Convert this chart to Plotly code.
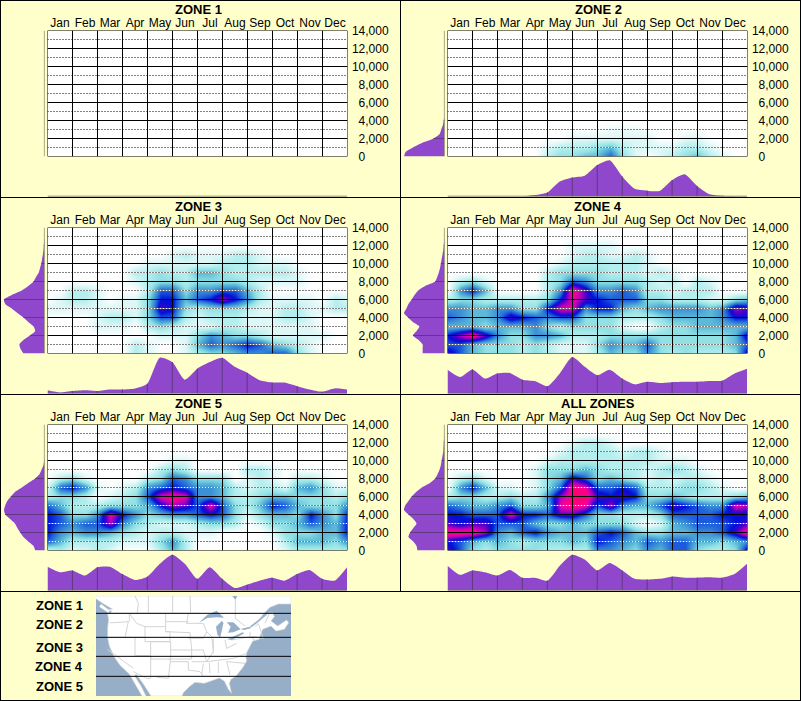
import numpy as np
import plotly.graph_objects as go

W, H = 801, 701
BG = "#FFFFCC"
PURPLE = "#8F47CC"
MONTHS = ["Jan","Feb","Mar","Apr","May","Jun","Jul","Aug","Sep","Oct","Nov","Dec"]
ELEV = [0,2000,4000,6000,8000,10000,12000,14000]
ELEV_TEXT = ["\u00a0\u00a00","\u00a0\u00a02,000","\u00a0\u00a04,000","\u00a0\u00a06,000","\u00a0\u00a08,000","10,000","12,000","14,000"]
MONTH_POS = [i/2 for i in range(25)]      # half-month columns
ELEV_ROWS = [i*1000 for i in range(15)]   # heat rows
ELEV_PROFILE = [i*500 for i in range(29)] # left profile rows

EMPTY_ROW = [0]*25

Z_ZONE1 = [EMPTY_ROW]*15
Z_ZONE2 = [
 [0,0,0,0,0,0,0,0,2,3,3,4,4,6,3,1,0,1,2,3,4,2,1,0,0],
 [0,0,0,0,0,0,0,0,1,2,2,2,3,4,2,1,1,1,1,2,2,1,0,0,0],
 [0,0,0,0,0,0,0,0,0,0,1,1,1,1,1,1,1,0,0,1,1,0,0,0,0],
 [0,0,0,0,0,0,0,0,0,0,0,0,0,.5,.5,.5,0,0,0,0,0,0,0,0,0],
] + [EMPTY_ROW]*11
Z_ZONE3 = [
 [0,0,0,0,0,0,0,2,1,0,0,1,2,3,3,4,5,5,6,6,3,1,0,0,0],
 [0,0,0,0,0,0,0,2,1,0,0,1,4,6,5,6,7,6,4,3,2,1,0,0,0],
 [0,0,0,0,0,0,0,0,0,1,1,1,3,5,4,3,3,2,1,1,1,1,1,0,0],
 [0,0,0,0,1,1,1,0,2,3,2,1,1,1,2,2,1,1,1,1,1,1,0,0,0],
 [0,0,0,0,1,2,2,1,3,6,6,2,1,2,2,2,1,1,1,2,2,1,0,0,0],
 [1,1,1,1,1,1,1,1,3,8,7,3,2,3,3,3,2,1,1,2,2,1,1,2,2],
 [0,1,2,2,1,0,1,1,3,7,7,4,6,7,9,7,5,2,1,1,1,1,0,2,1],
 [0,0,2,2,1,0,0,0,2,6,6,3,5,5,6,6,4,2,0,0,0,0,0,0,0],
 [0,0,0,0,0,0,0,1,2,3,3,2,3,3,3,3,2,1,1,1,1,0,0,0,0],
 [0,0,0,0,0,0,0,2,2,3,2,2,4,4,3,2,2,2,2,2,1,0,0,0,0],
 [0,0,0,0,0,0,0,0,1,1,1,1,1,1,2,2,2,1,1,1,0,0,0,0,0],
 [0,0,0,0,0,0,0,0,0,0,1,2,1,1,1,2,2,1,0,0,0,0,0,0,0],
] + [EMPTY_ROW]*3
Z_ZONE4 = [
 [8,6,4,3,3,3,2,3,2,1,1,1,2,4,3,3,5,3,2,3,2,2,2,3,8],
 [6,6,4,3,3,3,2,3,2,1,1,1,3,5,4,4,6,3,3,3,3,3,3,4,6],
 [7,9,11,8,5,3,3,5,5,4,2,2,2,3,3,3,3,3,3,3,3,3,3,4,8],
 [4,4,4,3,4,4,4,5,3,2,3,3,3,3,1,0,0,2,3,3,4,4,4,4,4],
 [6,5,4,4,5,8,7,6,5,6,6,3,3,3,2,2,2,3,4,4,4,4,5,7,7],
 [5,5,4,4,5,5,3,3,7,10,10,5,7,7,4,3,4,5,5,5,5,4,5,9,8],
 [2,3,3,2,2,2,2,2,3,7,10,8,7,6,6,6,3,3,2,2,2,1,1,3,4],
 [0,5,7,4,0,0,0,0,2,5,11,8,5,5,6,5,2,2,1,2,2,2,0,0,0],
 [0,2,3,1,0,0,0,0,2,3,6,5,3,3,3,3,2,1,2,0,2,1,0,0,0],
 [0,0,0,0,0,0,0,0,2,3,3,3,3,2,2,2,1,2,1,0,0,0,0,0,0],
 [0,0,0,0,0,0,0,0,0,1,2,2,2,2,2,2,1,0,0,0,0,0,0,0,0],
 [0,0,0,0,0,0,0,0,0,0,1,2,2,1,1,2,1,0,0,0,0,0,0,0,0],
 [0,0,0,0,0,0,0,0,0,0,1,1,1,1,0,0,0,0,0,0,0,0,0,0,0],
] + [EMPTY_ROW]*2
Z_ZONE5 = [
 [1,2,1,1,2,1,0,0,0,2,4,2,0,0,0,0,0,0,0,1,2,2,2,2,2],
 [6,4,2,2,2,2,1,1,1,3,5,2,0,0,0,0,0,0,0,2,4,4,4,3,5],
 [7,5,4,5,5,4,3,2,1,2,2,1,1,1,0,0,0,0,1,3,3,3,4,4,7],
 [7,6,5,6,6,9,5,3,2,1,1,1,2,3,3,2,0,1,3,3,4,6,5,4,7],
 [7,6,3,3,5,10,7,5,3,4,5,5,6,7,6,3,1,3,4,4,3,7,5,3,7],
 [6,4,2,2,2,3,3,3,4,7,9,8,6,10,6,3,2,4,7,6,4,3,3,3,5],
 [2,3,3,2,0,1,2,3,6,10,11,10,5,5,4,2,2,3,4,4,3,3,3,2,3],
 [1,6,7,5,1,0,1,2,5,6,7,6,5,5,4,2,1,2,2,1,4,5,3,1,1],
 [0,2,3,1,0,0,0,0,2,3,6,5,3,3,3,0,1,2,1,0,2,2,1,0,0],
 [0,0,0,0,0,0,0,0,0,2,3,2,0,0,0,0,2,2,1,0,0,0,0,0,0],
 [0,0,0,0,0,0,0,0,0,0,1,1,0,0,0,0,0,0,0,0,0,0,0,0,0],
] + [EMPTY_ROW]*4
Z_ALL = [
 [8,6,3,2,3,3,3,3,2,2,2,2,5,5,4,3,5,4,6,6,3,2,2,3,8],
 [7,6,4,3,4,3,2,3,3,3,4,3,7,6,5,4,6,5,6,6,4,4,3,4,5],
 [11,11,11,9,5,4,6,7,5,4,4,4,6,7,6,4,3,3,4,4,5,5,6,8,11],
 [8,7,8,8,6,6,6,4,3,3,4,3,3,3,3,1,0,1,4,5,6,6,6,7,8],
 [7,7,6,6,6,10,7,7,6,8,8,6,3,3,2,2,2,3,6,6,6,6,7,7,7],
 [6,5,4,4,5,6,3,3,4,10,11,10,6,9,5,4,4,6,8,7,6,5,5,10,9],
 [2,3,3,2,2,3,2,2,5,9,11,11,8,7,8,7,3,3,4,3,2,2,2,3,4],
 [0,5,7,4,1,1,0,1,3,6,11,10,6,6,7,6,2,2,2,3,3,2,1,0,0],
 [0,2,3,1,0,0,0,1,3,4,8,6,3,4,3,2,1,2,1,2,2,1,0,0,0],
 [0,0,0,0,0,0,0,1,3,3,3,4,3,2,2,2,1,2,3,2,1,0,0,0,0],
 [0,0,0,0,0,0,0,0,1,2,2,2,2,2,2,2,2,1,1,1,0,0,0,0,0],
 [0,0,0,0,0,0,0,0,0,1,2,2,2,2,1,2,2,1,0,0,0,0,0,0,0],
 [0,0,0,0,0,0,0,0,0,0,1,2,2,1,0,0,0,0,0,0,0,0,0,0,0],
] + [EMPTY_ROW]*2

BOTTOM_ZONE1 = [0]*25
BOTTOM_ZONE2 = [0,0,0,0,0,0,0,4,11,41,52,57,86,99,55,21,16,15,45,61,29,6,2,1,1]
BOTTOM_ZONE3 = [9,3,7,9,7,11,11,14,27,98,86,38,68,86,98,73,57,36,30,30,20,11,5,14,11]
BOTTOM_ZONE4 = [65,45,66,41,55,56,38,34,20,55,100,73,50,65,41,25,32,29,31,32,32,34,35,55,68]
BOTTOM_ZONE5 = [65,50,55,41,64,65,45,29,38,73,98,73,32,64,32,7,16,27,35,27,45,56,32,27,64]
BOTTOM_ALL   = [68,43,55,50,41,56,35,35,27,68,98,85,55,75,55,32,30,32,38,35,35,36,35,45,73]

LEFT_ZONE1 = [0]*29
LEFT_ZONE2 = [100,96,78,56,27,12,8,4,2,0,0,0,0,0,0,0,0,0,0,0,0,0,0,0,0,0,0,0,0]
LEFT_ZONE3 = [52,59,62,52,36,23,27,40,52,67,81,97,100,81,56,40,27,21,14,11,8,6,4,2.5,1.7,1,0,0,0]
LEFT_ZONE4 = [54,54,54,64,78,69,62,78,90,100,94,89,81,74,65,48,23,18,14,11,9,7,5,3,2,1,0,0,0]
LEFT_ZONE5 = [23,27,40,52,60,67,73,85,97,100,97,92,83,73,56,40,23,12,7,2.5,1,0,0,0,0,0,0,0,0]
LEFT_ALL   = [67,69,77,89,85,77,69,77,89,100,97,89,81,70,56,36,23,17,12,9,7,5,3,2.5,1.7,1,0,0,0]

PANELS = [
 ("ZONE 1", Z_ZONE1, BOTTOM_ZONE1, LEFT_ZONE1),
 ("ZONE 2", Z_ZONE2, BOTTOM_ZONE2, LEFT_ZONE2),
 ("ZONE 3", Z_ZONE3, BOTTOM_ZONE3, LEFT_ZONE3),
 ("ZONE 4", Z_ZONE4, BOTTOM_ZONE4, LEFT_ZONE4),
 ("ZONE 5", Z_ZONE5, BOTTOM_ZONE5, LEFT_ZONE5),
 ("ALL ZONES", Z_ALL, BOTTOM_ALL, LEFT_ALL),
]

COLORS = ["#FFFFFF","#DDF7F7","#B4EEEE","#90E0E4","#5CBAD8","#3C90D6","#1C5CDC","#0010D8",
          "#4A00C8","#AA00C0","#F000A0","#FF0070","#FF0040"]
COLORSCALE = [[i/12, c] for i, c in enumerate(COLORS)]

# Map outline, in map units
LAND_X = [288,873,873,870,835,810,790,778,798,818,823,813,833,860,866,853,828,813,788,780,778,758,750,740,738,740,728,708,693,688,693,695,685,673,658,648,633,613,585,568,550,546,453,430,408,404,423,438,426,406,388,360,343,328,323,323,326,323,336,326,338,308,288]
LAND_Y = [18,18,42,42,42,52,72,88,73,68,80,93,108,90,98,118,123,108,118,138,148,153,168,188,203,213,233,258,268,280,303,310,298,273,264,268,272,280,277,290,308,318,318,282,252,258,288,318,318,283,252,226,201,168,143,113,88,73,66,58,58,40,26]
ISLAND_X = [303,330,325,298]
ISLAND_Y = [42,62,68,50]
LAKES = [
 ([597,622,650,672,650,622],[98,74,62,83,82,84]),
 ([652,648,666,670,664,660],[133,110,92,100,128,143]),
 ([680,700,722,700,684,692],[97,97,118,127,128,110]),
 ([682,728,733,696],[148,127,130,150]),
 ([722,750,754,732],[117,110,114,120]),
 ([750,798,801,755],[109,72,74,112]),
 ([697,712,706],[18,18,30]),
]
BORDERS = [
 ([336,600],[70,70]),([405,415,412],[18,40,68]),([445,445],[18,68]),([518,518],[18,68]),([570,572],[18,68]),
 ([706,706,735],[30,85,108]),([388,388],[70,95]),([330,345,385],[98,98,95]),([385,375],[95,142]),
 ([322,435],[142,142]),([388,410,435,497],[70,100,110,110]),([497,497],[70,125]),([497,565],[95,95]),
 ([497,570],[125,128]),([435,435,510,510,497],[110,155,155,125,125]),([452,512,512,452,452],[155,155,207,207,155]),
 ([405,405,452],[142,197,197]),([322,400],[178,235]),([400,440,452],[245,265,265]),([452,452],[197,265]),
 ([512,505,470],[207,265,262]),([512,565,565,600,610],[215,215,240,245,258]),([505,575],[207,207]),
 ([512,575],[180,180]),([570,575,575],[128,180,207]),([575,610,620,575],[180,180,215,215]),
 ([560,610,620,610,565],[100,100,125,145,145]),([565,560],[70,100]),([620,635,640,620],[125,140,185,215]),
 ([640,640],[145,190]),([675,680,710],[150,175,160]),([620,700,740],[215,205,190]),
 ([605,610],[255,220]),([628,630],[218,250]),([655,655],[215,250]),([680,690],[215,255]),([680,735],[215,220]),
 ([695,750,765],[150,140,150]),([750,750,765],[125,140,140]),([765,775,790,765],[110,100,145,140]),([795,810],[100,65]),
]
ZONE_BREAKS = [70,142,199,259]
ZONE_LABELS = ["ZONE 1","ZONE 2","ZONE 3","ZONE 4","ZONE 5"]
ZONE_LABEL_PY = [605,624.7,647.3,666.7,686]

def dx(px): return px/W
def dy(py): return 1-py/H

fig = go.Figure()
layout = dict(width=W, height=H, margin=dict(l=0,r=0,t=0,b=0,pad=0,autoexpand=False), autosize=False,
              paper_bgcolor=BG, plot_bgcolor=BG, showlegend=False,
              font=dict(family="Liberation Sans, Arial, sans-serif", size=12, color="#000000"))
shapes, annos = [], []
ax = 0
def new_axes(xdom, ydom, xopts, yopts):
    global ax
    ax += 1
    s = "" if ax == 1 else str(ax)
    base = dict(showgrid=False, zeroline=False, showline=False, ticks="", showticklabels=False, fixedrange=True)
    layout["xaxis"+s] = {**base, "domain":xdom, "anchor":"y"+s, **xopts}
    layout["yaxis"+s] = {**base, "domain":ydom, "anchor":"x"+s, **yopts}
    return "x"+s, "y"+s

for idx, (title, z, bottom, left) in enumerate(PANELS):
    ox = 400 * (idx % 2)
    oy = 197 * (idx // 2)
    # marginal left
    xa, ya = new_axes([dx(ox+4), dx(ox+44.5)], [dy(oy+156.5), dy(oy+30.5)],
                      dict(range=[100,0]), dict(range=[0,14000]))
    fig.add_trace(go.Scatter(x=left, y=ELEV_PROFILE, xaxis=xa, yaxis=ya, mode="lines", fill="tozerox",
                             fillcolor=PURPLE, line=dict(color=PURPLE,width=0,shape="spline",smoothing=0.6), hoverinfo="skip"))
    for e in ELEV[1:-1]:
        v = float(np.interp(e, ELEV_PROFILE, left))
        if v > 0:
            fig.add_trace(go.Scatter(x=[0,v], y=[e,e], xaxis=xa, yaxis=ya, mode="lines",
                                     line=dict(color="#5F3A80",width=1), hoverinfo="skip"))
    fig.add_trace(go.Scatter(x=[0,0], y=[0,14000], xaxis=xa, yaxis=ya, mode="lines", cliponaxis=False,
                             line=dict(color="#6E6E5C",width=1.2), hoverinfo="skip"))
    # marginal bottom
    xa, ya = new_axes([dx(ox+47.5), dx(ox+347)], [dy(oy+196.5), dy(oy+160)],
                      dict(range=[0,12]), dict(range=[0,100]))
    fig.add_trace(go.Scatter(x=MONTH_POS, y=bottom, xaxis=xa, yaxis=ya, mode="lines", fill="tozeroy",
                             fillcolor=PURPLE, line=dict(color=PURPLE,width=0,shape="spline",smoothing=0.6), hoverinfo="skip"))
    for m in range(1,12):
        v = float(np.interp(m, MONTH_POS, bottom))
        if v > 0:
            fig.add_trace(go.Scatter(x=[m,m], y=[0,v], xaxis=xa, yaxis=ya, mode="lines",
                                     line=dict(color="#5F3A80",width=1), hoverinfo="skip"))
    fig.add_trace(go.Scatter(x=[0,12], y=[0,0], xaxis=xa, yaxis=ya, mode="lines", cliponaxis=False,
                             line=dict(color="#6E6E5C",width=1.5), hoverinfo="skip"))
    # heat
    xa, ya = new_axes([dx(ox+47.5), dx(ox+347.5)], [dy(oy+156.5), dy(oy+30.5)],
                      dict(range=[0,12], side="top", tickmode="array", tickvals=[i+.5 for i in range(12)],
                           ticktext=MONTHS, showticklabels=True, tickfont=dict(size=12,color="#000000"), ticklen=0),
                      dict(range=[0,14000], side="right", tickmode="array", tickvals=ELEV, ticktext=ELEV_TEXT,
                           showticklabels=True, tickfont=dict(size=12,color="#000000"),
                           ticks="outside", ticklen=1, tickcolor="rgba(0,0,0,0)"))
    fig.add_trace(go.Heatmap(x=MONTH_POS, y=ELEV_ROWS, z=z, xaxis=xa, yaxis=ya, zmin=0, zmax=12,
                             colorscale=COLORSCALE, showscale=False, zsmooth="best", hoverinfo="skip"))
    xr, yr = xa, ya
    for e in range(1000,14000,2000):
        shapes.append(dict(type="line",xref=xr,yref=yr,x0=0,x1=12,y0=e,y1=e,layer="above",
                           line=dict(color="#FFFFFF",width=1)))
        shapes.append(dict(type="line",xref=xr,yref=yr,x0=0,x1=12,y0=e,y1=e,layer="above",
                           line=dict(color="#000000",width=1,dash="1px,2px")))
    for e in ELEV:
        shapes.append(dict(type="line",xref=xr,yref=yr,x0=0,x1=12,y0=e,y1=e,layer="above",
                           line=dict(color="#000000",width=1)))
    for m in range(13):
        shapes.append(dict(type="line",xref=xr,yref=yr,x0=m,x1=m,y0=0,y1=14000,layer="above",
                           line=dict(color="#000000",width=1)))
    annos.append(dict(text="<b>%s</b>"%title, xref="paper", yref="paper", x=dx(ox+198), y=dy(oy+9),
                      xanchor="center", yanchor="middle", showarrow=False, font=dict(size=13,color="#000000")))

# map
xa, ya = new_axes([dx(96), dx(291)], [dy(696), dy(596)],
                  dict(range=[288,873]), dict(range=[318,18]))
fig.add_trace(go.Scatter(x=[288,873,873,288,288], y=[18,18,318,318,18], xaxis=xa, yaxis=ya, mode="lines", fill="toself",
                         fillcolor="#96AEC8", line=dict(width=0), hoverinfo="skip"))
for lx, ly in [(LAND_X, LAND_Y), (ISLAND_X, ISLAND_Y)]:
    fig.add_trace(go.Scatter(x=lx, y=ly, xaxis=xa, yaxis=ya, mode="lines", fill="toself",
                             fillcolor="#FFFFFF", line=dict(color="#D8D8D8",width=0.6), hoverinfo="skip"))
for lx, ly in BORDERS:
    fig.add_trace(go.Scatter(x=lx, y=ly, xaxis=xa, yaxis=ya, mode="lines",
                             line=dict(color="#D4D4D4",width=1), hoverinfo="skip"))
for lx, ly in LAKES:
    fig.add_trace(go.Scatter(x=lx, y=ly, xaxis=xa, yaxis=ya, mode="lines", fill="toself",
                             fillcolor="#96AEC8", line=dict(width=0), hoverinfo="skip"))
for b in ZONE_BREAKS:
    fig.add_trace(go.Scatter(x=[288,873], y=[b,b], xaxis=xa, yaxis=ya, mode="lines",
                             line=dict(color="#000000",width=1), hoverinfo="skip"))
for t, py in zip(ZONE_LABELS, ZONE_LABEL_PY):
    annos.append(dict(text="<b>%s</b>"%t, xref="paper", yref="paper", x=dx(59), y=dy(py), xanchor="center", yanchor="middle",
                      showarrow=False, font=dict(size=13,color="#000000")))

# frame
def pline(x0,y0,x1,y1):
    shapes.append(dict(type="line",xref="paper",yref="paper",x0=dx(x0),x1=dx(x1),y0=dy(y0),y1=dy(y1),layer="above",
                       line=dict(color="#000000",width=1)))
pline(0.5,0,0.5,701); pline(800.5,0,800.5,701); pline(0,0.5,801,0.5); pline(0,700.5,801,700.5)
pline(400.5,0,400.5,591)
for yy in (197.5,394.5,591.5):
    pline(0,yy,801,yy)

layout["shapes"] = shapes
layout["annotations"] = annos
fig.update_layout(**layout)
fig.write_html("out.html", config={"displayModeBar":False},
               post_script="document.body.style.margin='0';document.documentElement.style.overflow='hidden';")
